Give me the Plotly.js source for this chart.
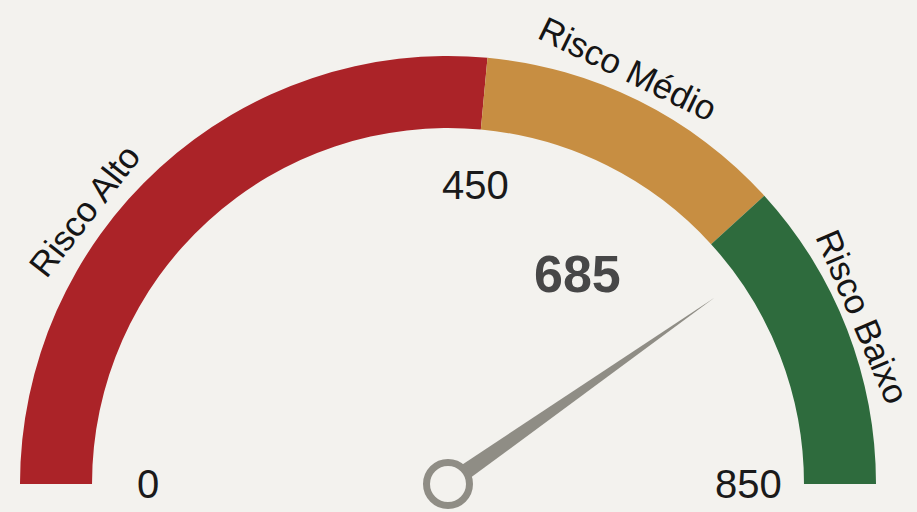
<!DOCTYPE html>
<html><head><meta charset="utf-8">
<script src="https://cdn.plot.ly/plotly-3.0.1.min.js"></script>
<style>html,body{margin:0;padding:0;background:#f3f2ee;} #chart{width:917px;height:512px;}</style>
</head><body><div id="chart"></div>
<script>
// ---- data ----
const scoreMin = 0;
const scoreMax = 850;
const bandNames = ['Risco Alto', 'Risco Médio', 'Risco Baixo'];
const bandStarts = [0, 450, 650];
const bandEnds = [450, 650, 850];
const tickValues = [0, 450, 850];
const tickLabels = ['0', '450', '850'];
const score = 685;

// ---- styles / layout constants ----
const bandColors = ['#ab2328', '#c78e42', '#2e6b3d'];
const W = 917, H = 512;
const cx = 448, cy = 484;          // gauge centre in px
const R = 448;                      // plotly gauge radius
const bg = '#f3f2ee';
const needleColor = '#8f8d85';
const font = '"Liberation Sans", Arial, sans-serif';

function angleOf(v) { return Math.PI * (1 - (v - scoreMin) / (scoreMax - scoreMin)); }

const gauge = {
  type: 'indicator', mode: 'gauge', value: score,
  domain: { x: [0, (2 * R) / W], y: [1 - cy / H, 1 - (cy - R) / H] },
  gauge: {
    shape: 'angular',
    axis: { range: [scoreMin, scoreMax], visible: false },
    bar: { color: 'rgba(0,0,0,0)', thickness: 0 },
    bgcolor: 'rgba(0,0,0,0)', borderwidth: 0,
    steps: bandStarts.map((s, i) => ({ range: [s, bandEnds[i]], color: bandColors[i], thickness: 0.643, line: { width: 0 } }))
  }
};

// needle computed from the score through the gauge's angular scale
const th = angleOf(score);
const ux = Math.cos(th), uy = Math.sin(th), nx = -uy, ny = ux;
const L = 325, r0 = 14, hw = 8;
const needle = {
  type: 'scatter', mode: 'lines', fill: 'toself', fillcolor: needleColor,
  line: { width: 0, color: needleColor }, hoverinfo: 'skip',
  x: [ux * r0 + nx * hw, ux * L, ux * r0 - nx * hw, ux * r0 + nx * hw],
  y: [uy * r0 + ny * hw, uy * L, uy * r0 - ny * hw, uy * r0 + ny * hw],
  xaxis: 'x', yaxis: 'y'
};
const hub = {
  type: 'scatter', mode: 'markers', x: [0], y: [0], hoverinfo: 'skip',
  marker: { size: 43, color: bg, line: { color: needleColor, width: 7 } },
  xaxis: 'x', yaxis: 'y'
};

const annotations = [];
const tickR = 300;
tickValues.forEach((v, i) => {
  const a = angleOf(v);
  annotations.push({ x: tickR * Math.cos(a), y: tickR * Math.sin(a), xref: 'x', yref: 'y',
    text: tickLabels[i], showarrow: false, xanchor: 'center', yanchor: 'middle',
    font: { family: font, size: 40, color: '#1a1a1a' } });
});
// band names, placed just outside the arc
const bandLabelPos = [[84, 210, -52], [628, 68, 26], [863, 316, 67]];
bandNames.forEach((n, i) => {
  const p = bandLabelPos[i];
  annotations.push({ x: p[0] - cx, y: cy - p[1], xref: 'x', yref: 'y', text: n, showarrow: false,
    textangle: p[2], xanchor: 'center', yanchor: 'middle',
    font: { family: font, size: 35, color: '#151515' } });
});
annotations.push({ x: 577 - cx, y: cy - 274, xref: 'x', yref: 'y', text: '<b>' + score + '</b>', showarrow: false,
  xanchor: 'center', yanchor: 'middle', font: { family: font, size: 52, color: '#474747' } });

const layout = {
  width: W, height: H, margin: { l: 0, r: 0, t: 0, b: 0 },
  paper_bgcolor: bg, plot_bgcolor: 'rgba(0,0,0,0)', showlegend: false,
  xaxis: { range: [-cx, W - cx], visible: false, fixedrange: true },
  yaxis: { range: [-(H - cy), cy], visible: false, fixedrange: true },
  annotations: annotations
};
Plotly.newPlot('chart', [gauge, needle, hub], layout, { displayModeBar: false, staticPlot: true });
</script></body></html>
